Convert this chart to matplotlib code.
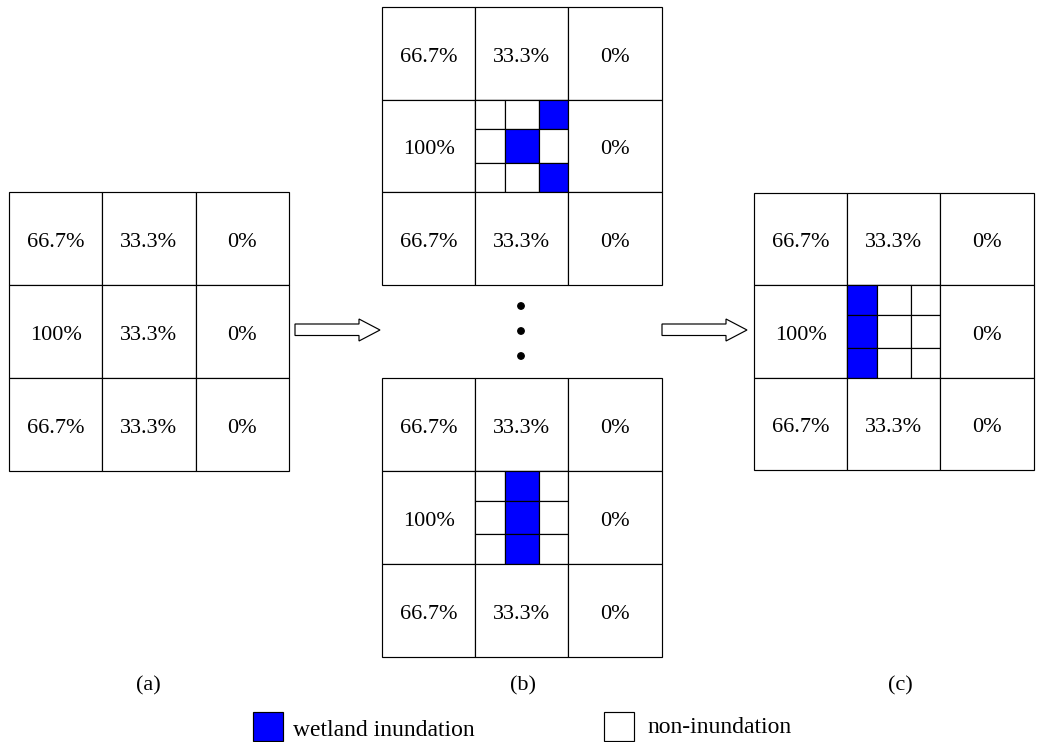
import matplotlib
matplotlib.use("Agg")
import matplotlib.pyplot as plt
from matplotlib.patches import Rectangle, Polygon, Circle

# ---- data ----
cell_labels = [["66.7%", "33.3%", "0%"],
               ["100%", "33.3%", "0%"],
               ["66.7%", "33.3%", "0%"]]
center_a = "33.3%"
pattern_b_top = [[0, 0, 1], [0, 1, 0], [0, 0, 1]]
pattern_b_bottom = [[0, 1, 0], [0, 1, 0], [0, 1, 0]]
pattern_c = [[1, 0, 0], [1, 0, 0], [1, 0, 0]]
panel_labels = ["(a)", "(b)", "(c)"]
legend_labels = ["wetland inundation", "non-inundation"]

BLUE = "#0000FF"
FONT = "Liberation Serif"
FS = 16
FS_LEG = 17
LW = 0.85

fig = plt.figure(figsize=(10.38, 7.42), dpi=100)
ax = fig.add_axes([0, 0, 1, 1])
ax.set_xlim(0, 1038)
ax.set_ylim(742, 0)
ax.axis("off")

SUB = [0.0, 0.32, 0.68, 1.0]


def draw_grid(x0, y0, cw, ch, center=None, pattern=None):
    for r in range(3):
        for c in range(3):
            x = x0 + c * cw
            y = y0 + r * ch
            ax.add_patch(Rectangle((x, y), cw, ch, facecolor="white",
                                   edgecolor="black", lw=LW))
            if r == 1 and c == 1:
                if pattern is not None:
                    for sr in range(3):
                        for sc in range(3):
                            sx = x + SUB[sc] * cw
                            sy = y + SUB[sr] * ch
                            w = (SUB[sc + 1] - SUB[sc]) * cw
                            h = (SUB[sr + 1] - SUB[sr]) * ch
                            ax.add_patch(Rectangle(
                                (sx, sy), w, h,
                                facecolor=BLUE if pattern[sr][sc] else "white",
                                edgecolor="black", lw=LW))
                    continue
                txt = center
            else:
                txt = cell_labels[r][c]
            ax.text(x + cw / 2, y + ch * 0.59, txt, ha="center", va="baseline",
                    fontsize=FS, family=FONT)


draw_grid(9, 192, 93.3, 93, center=center_a)
draw_grid(382, 7, 93.2, 92.7, pattern=pattern_b_top)
draw_grid(382, 378, 93.2, 93, pattern=pattern_b_bottom)
draw_grid(754, 193, 93.2, 92.3, pattern=pattern_c)


def arrow(x0, x1):
    tip = x1
    hb = tip - 21
    pts = [(x0, 324), (hb, 324), (hb, 319), (tip, 330), (hb, 341),
           (hb, 335.5), (x0, 335.5)]
    ax.add_patch(Polygon(pts, closed=True, facecolor="white",
                         edgecolor="black", lw=LW))


arrow(295, 380)
arrow(662, 747)

for yy in (306, 331, 356):
    ax.add_patch(Circle((521, yy), 3.2, color="black"))

for x, lab in zip((148, 523, 900), panel_labels):
    ax.text(x, 690, lab, ha="center", va="baseline", fontsize=FS, family=FONT)

ax.add_patch(Rectangle((253, 712), 30, 29, facecolor=BLUE, edgecolor="black", lw=LW))
ax.text(293, 736, legend_labels[0], ha="left", va="baseline", fontsize=FS_LEG, family=FONT)
ax.add_patch(Rectangle((604, 712), 30, 29, facecolor="white", edgecolor="black", lw=LW))
ax.text(647, 733, legend_labels[1], ha="left", va="baseline", fontsize=FS_LEG, family=FONT)

fig.savefig("out.png", dpi=100)
